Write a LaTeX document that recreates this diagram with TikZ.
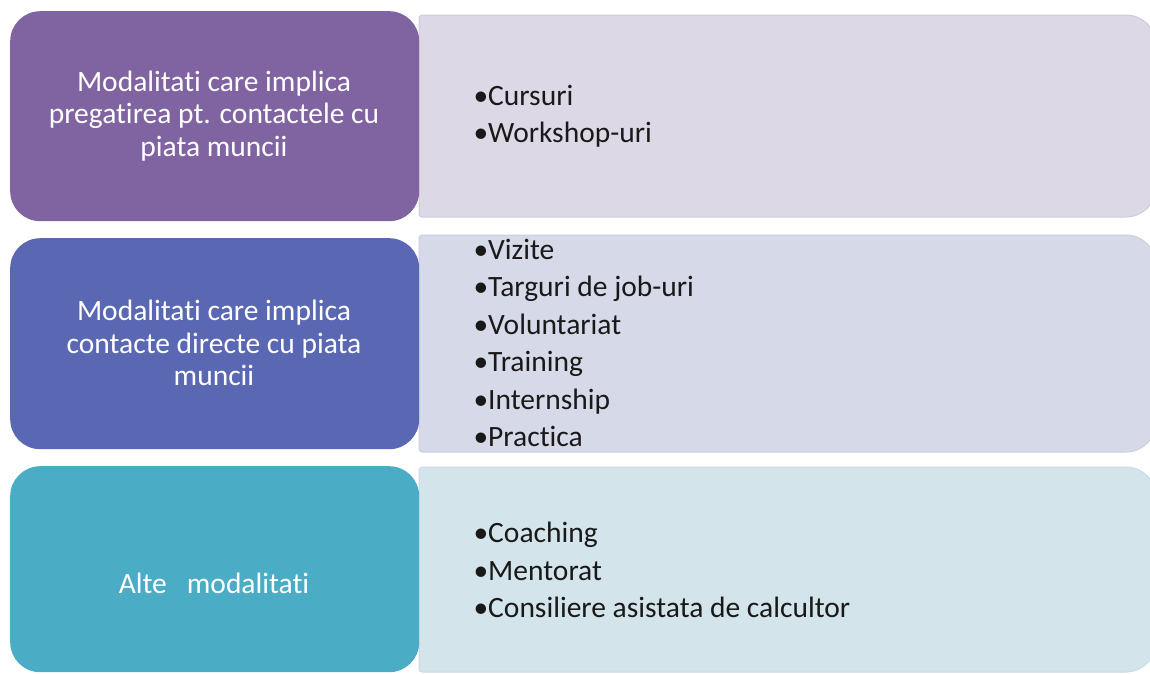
\documentclass[tikz,border=0pt]{standalone}
\usepackage{fontspec}
\setmainfont{Carlito}[Ligatures=NoCommon]
\usepackage{xcolor}
\usepackage{tikz}
\definecolor{headA}{HTML}{8064A2}
\definecolor{headB}{HTML}{5A67B3}
\definecolor{headC}{HTML}{4BACC6}
\definecolor{listA}{HTML}{DCD8E5}
\definecolor{listB}{HTML}{D6D9E8}
\definecolor{listC}{HTML}{D4E4EB}
\definecolor{rimA}{HTML}{D0CBDC}
\definecolor{rimB}{HTML}{CBCFE2}
\definecolor{rimC}{HTML}{C9DCE4}

\begin{document}
\begin{tikzpicture}[x=1pt, y=-1pt,
    headbox/.style={fill=#1, rounded corners=30pt, anchor=north west,
        minimum width=409pt, inner sep=0pt},
    headtext/.style={text=white, align=center,
        font=\fontsize{29.5}{32.5}\selectfont},
    listtext/.style={anchor=west, align=left, text=black!90,
        font=\fontsize{29.5}{37.5}\selectfont}]
    \useasboundingbox (0, 0) rectangle (1150, 673);

    \filldraw[fill=listA, draw=rimA, line width=1pt]
        (700, 15) [rounded corners=30pt] -- (1156, 15) -- (1156, 217)
        [rounded corners=3pt] -- (419, 217) -- (419, 15) -- (700, 15);
    \filldraw[fill=listB, draw=rimB, line width=1pt]
        (700, 235) [rounded corners=30pt] -- (1156, 235) -- (1156, 452)
        [rounded corners=3pt] -- (419, 452) -- (419, 235) -- (700, 235);
    \filldraw[fill=listC, draw=rimC, line width=1pt]
        (700, 467) [rounded corners=30pt] -- (1156, 467) -- (1156, 672)
        [rounded corners=3pt] -- (419, 672) -- (419, 467) -- (700, 467);

    \node[headbox=headA, minimum height=210pt] (h1) at (10, 11) {};
    \node[headbox=headB, minimum height=211pt] (h2) at (10, 238) {};
    \node[headbox=headC, minimum height=206pt] (h3) at (10, 466) {};

    \node[headtext] (t1) at (214, 116)
        {Modalitati care implica\\pregatirea pt. contactele cu\\piata muncii};
    \node[headtext] (t2) at (214, 343)
        {Modalitati care implica\\contacte directe cu piata\\muncii};
    \node[headtext] (t3) at (214, 583) {Alte\ \ \ modalitati};

    \node[listtext] (l1) at (470, 116) {•Cursuri\\•Workshop-uri};
    \node[listtext] (l2) at (470, 343)
        {•Vizite\\•Targuri de job-uri\\•Voluntariat\\•Training\\•Internship\\•Practica};
    \node[listtext] (l3) at (470, 570)
        {•Coaching\\•Mentorat\\•Consiliere asistata de calcultor};
\end{tikzpicture}
\end{document}
